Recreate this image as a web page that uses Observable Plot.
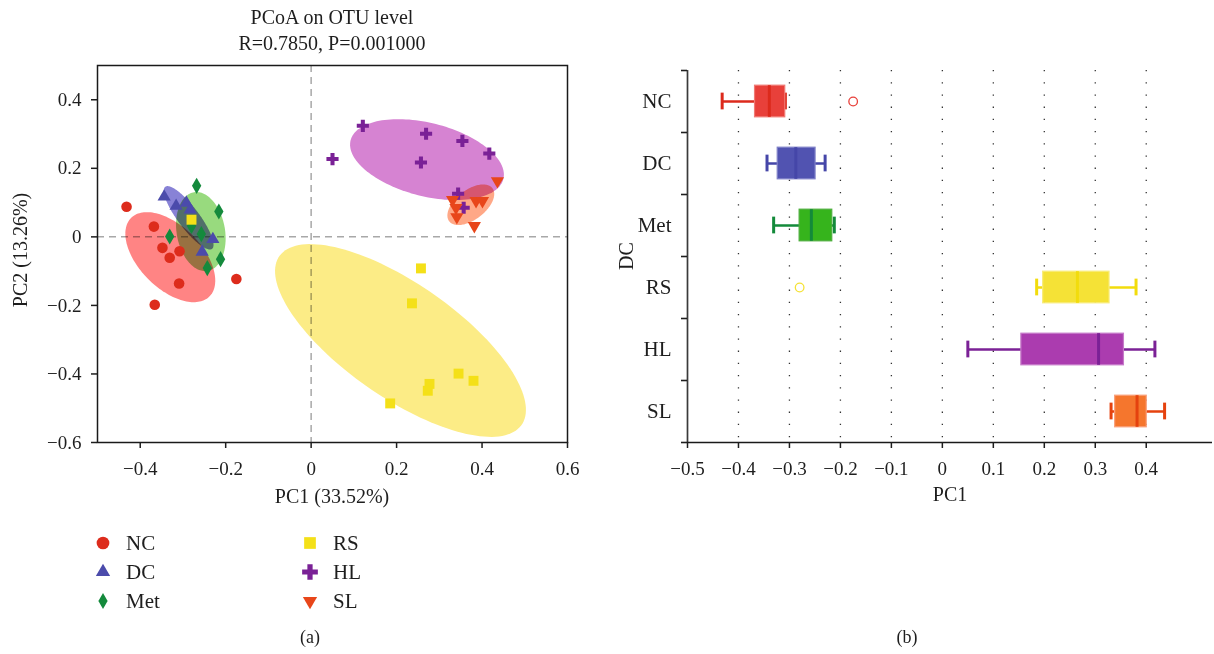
<!DOCTYPE html>
<html>
<head>
<meta charset="utf-8">
<script src="https://cdn.jsdelivr.net/npm/d3@7"></script>
<script src="https://cdn.jsdelivr.net/npm/@observablehq/plot@0.6"></script>
<style>
  body { margin: 0; background: #fff; }
  #fig { position: relative; width: 1214px; height: 654px; overflow: hidden;
         font-family: "Liberation Serif", "Times New Roman", serif; color: #1e1e1e; background: #fff; }
  .t { position: absolute; white-space: nowrap; transform: translate(-50%, -50%); line-height: 1; }
  .l { position: absolute; white-space: nowrap; transform: translate(0, -50%); line-height: 1; font-size: 21px; }
  .panel { position: absolute; top: 0; }
  .sym { position: absolute; }
</style>
</head>
<body>
<div id="fig"></div>
<script>
// Groups, in drawing order
const groups = ["NC", "DC", "Met", "RS", "HL", "SL"];

// PCoA coordinates per sample (PC1, PC2)
const ncPC1  = [-0.432, -0.368, -0.348, -0.331, -0.308, -0.309, -0.366, -0.175];
const ncPC2  = [ 0.088,  0.030, -0.032, -0.061, -0.042, -0.136, -0.198, -0.123];
const dcPC1  = [-0.344, -0.316, -0.292, -0.283, -0.230, -0.255];
const dcPC2  = [ 0.117,  0.090,  0.099,  0.079, -0.007, -0.044];
const metPC1 = [-0.268, -0.216, -0.331, -0.280, -0.257, -0.212, -0.243];
const metPC2 = [ 0.149,  0.074,  0.001,  0.032,  0.008, -0.065, -0.091];
const rsPC1  = [ 0.257,  0.236,  0.345,  0.380,  0.277,  0.273,  0.185, -0.280];
const rsPC2  = [-0.092, -0.194, -0.399, -0.420, -0.429, -0.449, -0.486,  0.050];
const hlPC1  = [ 0.050,  0.121,  0.269,  0.354,  0.417,  0.257,  0.344,  0.357];
const hlPC2  = [ 0.227,  0.324,  0.301,  0.280,  0.243,  0.217,  0.126,  0.085];
const slPC1  = [ 0.436,  0.331,  0.339,  0.386,  0.401,  0.341,  0.382];
const slPC2  = [ 0.163,  0.108,  0.085,  0.105,  0.105,  0.058,  0.032];

const pc1 = [ncPC1, dcPC1, metPC1, rsPC1, hlPC1, slPC1];
const pc2 = [ncPC2, dcPC2, metPC2, rsPC2, hlPC2, slPC2];

// Axis ticks
const pcoaXTicks = [-0.4, -0.2, 0, 0.2, 0.4, 0.6];
const pcoaYTicks = [-0.6, -0.4, -0.2, 0, 0.2, 0.4];
const boxXTicks  = [-0.5, -0.4, -0.3, -0.2, -0.1, 0, 0.1, 0.2, 0.3, 0.4];
const boxGrid    = [-0.4, -0.3, -0.2, -0.1, 0, 0.1, 0.2, 0.3, 0.4];
const tickFmt = d3.format(".1~f");

// Colours
const pointColor   = ["#dd2c1c", "#4b4bab", "#148a3c", "#f4e018", "#7a2196", "#e8461a"];
const ellipseColor = ["#ff8484", "#8882d6", "#98da7e", "#fcec86", "#d683d2", "#ffa887"];
const boxFill      = ["#e8403a", "#5153b1", "#36b41c", "#f5e236", "#ab3caf", "#f5762d"];
const boxEdge      = ["#f07a74", "#7f80c8", "#4cae3c", "#f8ec7a", "#c67ac9", "#f9a07a"];
const boxLine      = ["#dc2a1c", "#4546a8", "#138a3a", "#f2dc0c", "#7b2196", "#e5420e"];

// Downward-pointing triangle symbol
const triangleDown = {
  draw(context, size) {
    const s3 = Math.sqrt(3);
    const y = -Math.sqrt(size / (s3 * 3));
    context.moveTo(0, -y * 2);
    context.lineTo(-s3 * y, y);
    context.lineTo(s3 * y, y);
    context.closePath();
  }
};
const symbols = ["circle", "triangle", "diamond", "square", "cross", triangleDown];
const radii = [5.3, 4.9, 4.9, 5.6, 5.1, 4.9];
const fontStack = "'Liberation Serif', 'Times New Roman', serif";

const rows = groups.flatMap((g, i) => pc1[i].map((x, j) => ({group: g, gi: i, x, y: pc2[i][j]})));

// Covariance ellipse of a group's scores
function ellipse(i, k = 1.42, n = 144) {
  const xs = pc1[i], ys = pc2[i];
  const mx = d3.mean(xs), my = d3.mean(ys);
  const sxx = d3.variance(xs), syy = d3.variance(ys);
  const sxy = d3.sum(xs, (x, j) => (x - mx) * (ys[j] - my)) / (xs.length - 1);
  const m = (sxx + syy) / 2, r = Math.sqrt(((sxx - syy) / 2) ** 2 + sxy ** 2);
  const a = k * Math.sqrt(m + r), b = k * Math.sqrt(Math.max(m - r, 0));
  const th = 0.5 * Math.atan2(2 * sxy, sxx - syy);
  return d3.range(n).map(s => {
    const t = 2 * Math.PI * s / n;
    return {
      x: mx + a * Math.cos(t) * Math.cos(th) - b * Math.sin(t) * Math.sin(th),
      y: my + a * Math.cos(t) * Math.sin(th) + b * Math.sin(t) * Math.cos(th)
    };
  });
}

// Box statistics of PC1 (quartiles by the (n+1)p rule, 1.5 IQR whiskers)
function quantile6(s, p) {
  const n = s.length, h = p * (n + 1), lo = Math.floor(h);
  if (lo < 1) return s[0];
  if (lo >= n) return s[n - 1];
  return s[lo - 1] + (h - lo) * (s[lo] - s[lo - 1]);
}
const stats = groups.map((g, i) => {
  const s = pc1[i].slice().sort(d3.ascending);
  const q1 = quantile6(s, 0.25), med = quantile6(s, 0.5), q3 = quantile6(s, 0.75);
  const iqr = q3 - q1, f0 = q1 - 1.5 * iqr, f1 = q3 + 1.5 * iqr;
  const inside = s.filter(v => v >= f0 && v <= f1);
  return {group: g, gi: i, q1, med, q3, lo: d3.min(inside), hi: d3.max(inside),
          out: s.filter(v => v < f0 || v > f1)};
});
const outliers = stats.flatMap(s => s.out.map(v => ({gi: s.gi, x: v})));

const fig = document.getElementById("fig");

// (a) PCoA scatter
const pcoa = Plot.plot({
  width: 600, height: 520,
  marginLeft: 97, marginRight: 33, marginTop: 65, marginBottom: 78,
  style: {fontFamily: fontStack, fontSize: "19px", color: "#1e1e1e", background: "white", overflow: "visible"},
  x: {domain: [-0.5, 0.6]},
  y: {domain: [-0.6, 0.5]},
  marks: [
    Plot.ruleX([0], {stroke: "#a8a8a8", strokeWidth: 1.5, strokeDasharray: "7,5"}),
    Plot.ruleY([0], {stroke: "#a8a8a8", strokeWidth: 1.5, strokeDasharray: "7,5"}),
    ...groups.map((g, i) => Plot.line(ellipse(i), {
      x: "x", y: "y", curve: "linear-closed", fill: ellipseColor[i], stroke: "none", mixBlendMode: "multiply"
    })),
    ...groups.map((g, i) => Plot.dot(rows.filter(d => d.gi === i), {
      x: "x", y: "y", symbol: symbols[i], r: radii[i], fill: pointColor[i], stroke: "none"
    })),
    Plot.frame({stroke: "#1a1a1a", strokeWidth: 1.5}),
    Plot.axisX({ticks: pcoaXTicks, tickFormat: tickFmt, tickSize: 6, tickPadding: 13, strokeWidth: 1.5, label: null}),
    Plot.axisY({ticks: pcoaYTicks, tickFormat: tickFmt, tickSize: 6, tickPadding: 10, strokeWidth: 1.5, label: null})
  ]
});
pcoa.classList.add("panel");
pcoa.style.left = "0px";
fig.appendChild(pcoa);

// (b) PC1 box plot by group
const box = Plot.plot({
  width: 614, height: 520,
  marginLeft: 87, marginRight: 2, marginTop: 70, marginBottom: 78,
  style: {fontFamily: fontStack, fontSize: "19px", color: "#1e1e1e", background: "white", overflow: "visible"},
  color: {type: "identity"},
  x: {domain: [-0.5, 0.53]},
  y: {domain: [0, 6], reverse: true},
  marks: [
    Plot.ruleX(boxGrid, {stroke: "#333", strokeWidth: 1.3, strokeDasharray: "1.3,10.9"}),
    Plot.ruleY(stats, {y: d => d.gi + 0.5, x1: "lo", x2: "hi", stroke: d => boxLine[d.gi], strokeWidth: 2.5}),
    Plot.ruleX(stats, {x: "lo", y1: d => d.gi + 0.365, y2: d => d.gi + 0.635, stroke: d => boxLine[d.gi], strokeWidth: 3}),
    Plot.ruleX(stats, {x: "hi", y1: d => d.gi + 0.365, y2: d => d.gi + 0.635, stroke: d => boxLine[d.gi], strokeWidth: 3}),
    Plot.rect(stats, {x1: "q1", x2: "q3", y1: d => d.gi + 0.245, y2: d => d.gi + 0.755,
                      fill: d => boxFill[d.gi], stroke: d => boxEdge[d.gi], strokeWidth: 1.2}),
    Plot.ruleX(stats, {x: "med", y1: d => d.gi + 0.245, y2: d => d.gi + 0.755, stroke: d => boxLine[d.gi], strokeWidth: 3}),
    Plot.dot(outliers, {x: "x", y: d => d.gi + 0.5, r: 4.3, stroke: d => boxFill[d.gi], strokeWidth: 1.3, fill: "none"}),
    Plot.ruleX([-0.5], {stroke: "#3a3a3a", strokeWidth: 1.7}),
    Plot.ruleY([6], {stroke: "#1a1a1a", strokeWidth: 1.6}),
    Plot.axisY({ticks: d3.range(7), tickSize: 6, tickFormat: () => "", strokeWidth: 1.6, label: null}),
    Plot.axisY({ticks: groups.map((g, i) => i + 0.5), tickSize: 0, tickPadding: 16,
                tickFormat: d => groups[Math.floor(d)], fontSize: 21, label: null}),
    Plot.axisX({ticks: boxXTicks, tickFormat: tickFmt, tickSize: 6, tickPadding: 13, strokeWidth: 1.5, label: null})
  ]
});
box.classList.add("panel");
box.style.left = "600px";
fig.appendChild(box);

// Titles, axis titles and captions
function text(str, x, y, size, rotate) {
  const d = document.createElement("div");
  d.className = "t";
  d.textContent = str;
  d.style.left = x + "px";
  d.style.top = y + "px";
  d.style.fontSize = size + "px";
  if (rotate) d.style.transform = "translate(-50%, -50%) rotate(-90deg)";
  fig.appendChild(d);
}
text("PCoA on OTU level", 332, 17, 20);
text("R=0.7850, P=0.001000", 332, 43, 20);
text("PC1 (33.52%)", 332, 496, 20);
text("PC2 (13.26%)", 20, 250, 20, true);
text("PC1", 950, 494, 20);
text("DC", 626, 256, 20, true);
text("(a)", 310, 637, 18);
text("(b)", 907, 637, 18);

// Legend for the scatter symbols
const legendSize = [127, 88, 74, 137, 137, 88];
const legendSymbols = [d3.symbolCircle, d3.symbolTriangle, d3.symbolDiamond, d3.symbolSquare, d3.symbolCross, triangleDown];
groups.forEach((g, i) => {
  const col = Math.floor(i / 3), row = i % 3;
  const cx = [103, 310][col], cy = [543, 572, 601][row];
  const svg = d3.create("svg").attr("class", "sym").attr("width", 24).attr("height", 24)
    .style("left", (cx - 12) + "px").style("top", (cy - 12) + "px");
  svg.append("path").attr("transform", "translate(12,12)")
    .attr("d", d3.symbol(legendSymbols[i], legendSize[i])()).attr("fill", pointColor[i]);
  fig.appendChild(svg.node());
  const lab = document.createElement("div");
  lab.className = "l";
  lab.textContent = g;
  lab.style.left = [126, 333][col] + "px";
  lab.style.top = cy + "px";
  fig.appendChild(lab);
});
</script>
</body>
</html>
